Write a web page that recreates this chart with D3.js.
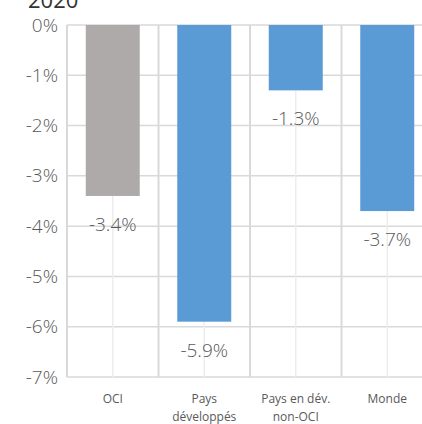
<!DOCTYPE html>
<html>
<head>
<meta charset="utf-8">
<script src="https://cdn.jsdelivr.net/npm/d3@7"></script>
<style>
   body { margin: 0; background: #fff; }
   svg { display: block; font-family: "Open Sans", sans-serif; }
</style>
</head>
<body>
<div id="chart"></div>
<script>
// Chart data
const categories = ["OCI", "Pays\ndéveloppés", "Pays en dév.\nnon-OCI", "Monde"];
const values = [-3.4, -5.9, -1.3, -3.7];
const valueLabels = ["-3.4%", "-5.9%", "-1.3%", "-3.7%"];
const barColors = ["#AEAAAA", "#5B9BD5", "#5B9BD5", "#5B9BD5"];
const yTicks = [0, -1, -2, -3, -4, -5, -6, -7];

const width = 422, height = 424;
const plot = { left: 67, right: 433, top: 25, bottom: 377 };

const svg = d3.select("#chart").append("svg")
   .attr("width", width)
   .attr("height", height);

const x = d3.scaleBand()
   .domain(categories)
   .range([plot.left, plot.right])
   .paddingInner(0)
   .paddingOuter(0);

const y = d3.scaleLinear()
   .domain([0, -7])
   .range([plot.top, plot.bottom]);

// Horizontal gridlines
svg.append("g")
   .selectAll("line")
   .data(yTicks)
   .join("line")
   .attr("x1", plot.left)
   .attr("x2", plot.right)
   .attr("y1", d => y(d))
   .attr("y2", d => y(d))
   .attr("stroke", "#d9d9d9")
   .attr("stroke-width", 1.5);

// Vertical gridlines: light ones at the centre, darker ones at the bounds
svg.append("g")
   .selectAll("line")
   .data(categories)
   .join("line")
   .attr("x1", d => x(d) + x.bandwidth() / 2)
   .attr("x2", d => x(d) + x.bandwidth() / 2)
   .attr("y1", plot.top)
   .attr("y2", plot.bottom)
   .attr("stroke", "#ededed")
   .attr("stroke-width", 1.5);

svg.append("g")
   .selectAll("line")
   .data(categories)
   .join("line")
   .attr("x1", d => x(d))
   .attr("x2", d => x(d))
   .attr("y1", plot.top)
   .attr("y2", plot.bottom)
   .attr("stroke", "#d9d9d9")
   .attr("stroke-width", 2);

// Bars
const barW = 54;
svg.append("g")
   .selectAll("rect")
   .data(values)
   .join("rect")
   .attr("x", (d, i) => x(categories[i]) + x.bandwidth() / 2 - barW / 2)
   .attr("y", y(0))
   .attr("width", barW)
   .attr("height", d => y(d) - y(0))
   .attr("fill", (d, i) => barColors[i]);

// Value labels under each bar
svg.append("g")
   .selectAll("text")
   .data(values)
   .join("text")
   .attr("x", (d, i) => x(categories[i]) + x.bandwidth() / 2)
   .attr("y", d => y(d) + 35)
   .attr("text-anchor", "middle")
   .attr("font-size", 19)
   .attr("font-weight", 300)
   .attr("fill", "#595959")
   .text((d, i) => valueLabels[i]);

// Y axis labels
const yAxis = d3.axisLeft(y)
   .tickValues(yTicks)
   .tickFormat(d => d + "%")
   .tickSize(0)
   .tickPadding(9);

svg.append("g")
   .attr("transform", `translate(${plot.left},0)`)
   .call(yAxis)
   .call(g => g.select(".domain").remove())
   .selectAll("text")
   .attr("font-family", "'Open Sans', sans-serif")
   .attr("font-size", 19)
   .attr("font-weight", 300)
   .attr("fill", "#595959");

// Category labels
svg.append("g")
   .selectAll("text")
   .data(categories)
   .join("text")
   .attr("x", d => x(d) + x.bandwidth() / 2)
   .attr("y", 403)
   .attr("text-anchor", "middle")
   .attr("font-size", 12)
   .attr("fill", "#595959")
   .each(function(d) {
      d.split("\n").forEach((line, i) => {
         d3.select(this).append("tspan")
            .attr("x", x(d) + x.bandwidth() / 2)
            .attr("dy", i === 0 ? 0 : 18)
            .text(line);
      });
   });

// Title (cut at the top in the source)
svg.append("text")
   .attr("x", 28)
   .attr("y", 8)
   .attr("font-size", 22)
   .attr("fill", "#333")
   .text("2020");
</script>
</body>
</html>
